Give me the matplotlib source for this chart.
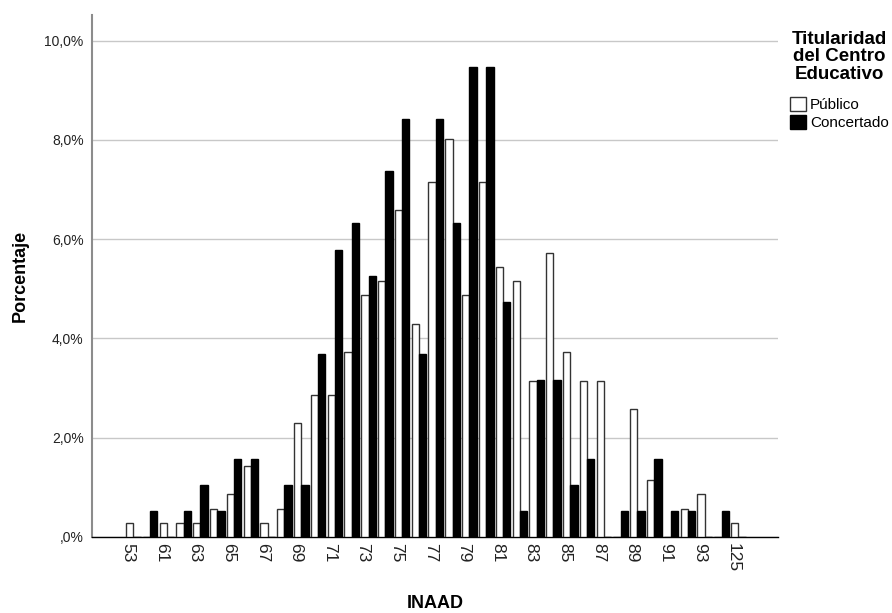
import matplotlib.pyplot as plt
import numpy as np

plt.rcParams['font.family'] = ['Liberation Sans', 'DejaVu Sans']

# categorias de INAAD (solo se rotula una de cada dos)
categorias = ["53", "59", "61", "62", "63", "64", "65", "66", "67", "68",
              "69", "70", "71", "72", "73", "74", "75", "76", "77", "78",
              "79", "80", "81", "82", "83", "84", "85", "86", "87", "88",
              "89", "90", "91", "92", "93", "95", "125"]

# porcentajes por titularidad
publico = [0.29, 0.0, 0.29, 0.29, 0.29, 0.57, 0.86, 1.43, 0.29, 0.57,
           2.29, 2.87, 2.87, 3.72, 4.87, 5.16, 6.59, 4.30, 7.16, 8.02,
           4.87, 7.16, 5.44, 5.16, 3.15, 5.73, 3.72, 3.15, 3.15, 0.0,
           2.58, 1.15, 0.0, 0.57, 0.86, 0.0, 0.29]
concertado = [0.0, 0.53, 0.0, 0.53, 1.05, 0.53, 1.58, 1.58, 0.0, 1.05,
              1.05, 3.68, 5.79, 6.32, 5.26, 7.37, 8.42, 3.68, 8.42, 6.32,
              9.47, 9.47, 4.74, 0.53, 3.16, 3.16, 1.05, 1.58, 0.0, 0.53,
              0.53, 1.58, 0.53, 0.53, 0.0, 0.53, 0.0]

yticks = [0, 2, 4, 6, 8, 10]
ytick_labels = [",0%", "2,0%", "4,0%", "6,0%", "8,0%", "10,0%"]

fig = plt.figure(figsize=(8.92, 6.13), dpi=100)
ax = fig.add_axes([0.103, 0.124, 0.769, 0.852])

x = np.arange(len(categorias))
w = 0.435
b1 = ax.bar(x - w/2, publico, w, color="white", edgecolor="#333333",
            linewidth=1, label="Público", zorder=3)
b2 = ax.bar(x + w/2, concertado, w, color="black", edgecolor="black",
            linewidth=1, label="Concertado", zorder=3)

ax.set_xlim(-2.46, 38.35)
ax.set_ylim(0, 10.52)

ax.set_yticks(yticks)
ax.set_yticklabels(ytick_labels, fontsize=10, color="#222222")
ax.yaxis.grid(True, color="#c8c8c8", linewidth=1, zorder=0)

# en el original la etiqueta cae sobre la barra blanca del grupo
ax.set_xticks(x[::2] - 0.33)
ax.set_xticklabels(categorias[::2], rotation=-90, fontsize=12.5,
                   color="#222222", va="top", ha="center")

ax.tick_params(axis="both", length=0)
ax.tick_params(axis="y", pad=6)
ax.tick_params(axis="x", pad=4)

for s in ["top", "right"]:
    ax.spines[s].set_visible(False)
ax.spines["left"].set_color("#8c8c8c")
ax.spines["left"].set_linewidth(1.5)
ax.spines["bottom"].set_color("black")
ax.spines["bottom"].set_linewidth(1)

ax.set_ylabel("Porcentaje", fontsize=13, fontweight="bold", labelpad=11)
ax.set_xlabel("INAAD", fontsize=13, fontweight="bold", labelpad=17)

leg = fig.legend(handles=[b1, b2], loc="upper left",
                 bbox_to_anchor=(0.886, 0.950), frameon=False,
                 title="Titularidad\ndel Centro\nEducativo",
                 title_fontproperties={"weight": "bold", "size": 13.5},
                 fontsize=11, handlelength=1.0, handleheight=1.0,
                 handletextpad=0.3, labelspacing=0.2, borderpad=0,
                 borderaxespad=0)
leg.get_title().set_linespacing(1.05)
leg.get_title().set_multialignment("center")
leg._legend_box.sep = 10

fig.savefig("out.png", dpi=100)
